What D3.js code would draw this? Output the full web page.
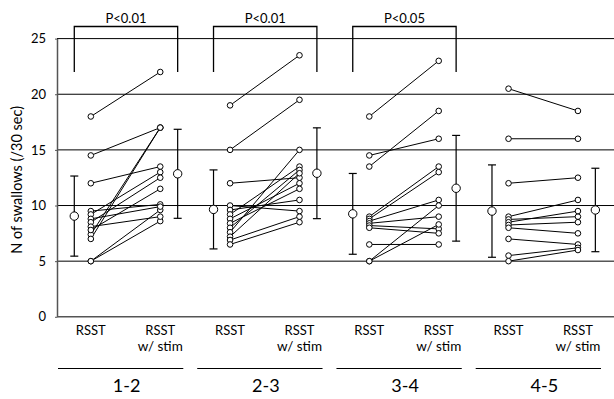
<!DOCTYPE html>
<html>
<head>
<meta charset="utf-8">
<script src="https://cdn.jsdelivr.net/npm/d3@7"></script>
<style>
  body { margin: 0; background: #fff; }
  svg { display: block; font-family: Lato, "DejaVu Sans", sans-serif; }
</style>
</head>
<body>
<svg id="chart" width="614" height="399"></svg>
<script>
// groups and labels
const groups = ["1-2", "2-3", "3-4", "4-5"];
const pLabels = ["P<0.01", "P<0.01", "P<0.05", null];
const yTicks = [0, 5, 10, 15, 20, 25];

// paired values per subject (RSST -> RSST w/ stim)
const rsst12 = [18, 14.5, 12, 7.4, 7.0, 5, 5, 9.5, 9.2, 8.8, 8.5, 8.1, 7.8];
const stim12 = [22, 17, 13.5, 17, 17, 9.6, 8.6, 10.1, 13, 9.9, 12.5, 9.0, 11.5];
const rsst23 = [19, 15, 12, 10, 9.6, 9.2, 8.8, 8.4, 8, 7.6, 7.2, 6.9, 6.5];
const stim23 = [23.5, 19.5, 12.5, 9.5, 10.5, 13.5, 12, 11.5, 13.2, 15, 12.9, 9.0, 8.5];
const rsst34 = [18, 14.5, 13.5, 9, 8.8, 8.6, 8.4, 8.2, 8.0, 6.5, 5, 5];
const stim34 = [23, 16, 18.5, 13.5, 13, 10.5, 9, 7.9, 7.5, 6.5, 10, 8.3];
const rsst45 = [20.5, 16, 12, 9, 8.75, 8.5, 8.25, 8, 7, 5.5, 5];
const stim45 = [18.5, 16, 12.5, 10.5, 9.0, 9.5, 8.5, 7.5, 6.5, 6.2, 6.0];

// mean and SD per group
const meanRsst = [9.05, 9.65, 9.25, 9.5];
const sdRsst = [3.6, 3.55, 3.63, 4.15];
const meanStim = [12.85, 12.9, 11.55, 9.6];
const sdStim = [4.0, 4.08, 4.75, 3.75];

const rsstSets = [rsst12, rsst23, rsst34, rsst45];
const stimSets = [stim12, stim23, stim34, stim45];

const svg = d3.select("#chart");
const axisX = 57;

const x = d3.scaleBand()
    .domain(groups)
    .range([58, 601])
    .paddingInner(0.1)
    .paddingOuter(0);

const y = d3.scaleLinear()
    .domain([0, 25])
    .range([316.8, 38.6]);

// positions inside one group band (fraction of bandwidth)
const inner = d3.scaleOrdinal()
    .domain(["meanL", "rsst", "stim", "meanR"])
    .range([0.13, 0.262, 0.816, 0.955]);
const px = (g, k) => x(g) + inner(k) * x.bandwidth();

// grid lines
svg.append("g")
    .selectAll("line")
    .data(yTicks.filter(d => d > 0))
    .join("line")
    .attr("x1", axisX).attr("x2", 614)
    .attr("y1", d => y(d)).attr("y2", d => y(d))
    .attr("stroke", "#000")
    .attr("stroke-width", 1);

// y axis
const yAxis = svg.append("g")
    .attr("transform", `translate(${axisX},0)`)
    .call(d3.axisLeft(y).tickValues(yTicks).tickSizeInner(2).tickSizeOuter(0).tickPadding(9));
yAxis.select(".domain").attr("stroke", "#555").attr("stroke-width", 1.5);
yAxis.selectAll(".tick line").attr("stroke", "#555");
yAxis.selectAll("text").attr("font-size", 13).attr("font-family", "Lato");

// baseline
svg.append("line")
    .attr("x1", axisX).attr("x2", 614)
    .attr("y1", y(0)).attr("y2", y(0))
    .attr("stroke", "#555").attr("stroke-width", 1.5);

svg.append("text")
    .attr("transform", `translate(22,${y(12.3)}) rotate(-90)`)
    .attr("text-anchor", "middle")
    .attr("font-size", 14.5)
    .text("N of swallows (/30 sec)");

groups.forEach((g, gi) => {
    const grp = svg.append("g");
    const pairs = d3.zip(rsstSets[gi], stimSets[gi]);

    grp.selectAll("line.pair")
        .data(pairs)
        .join("line")
        .attr("class", "pair")
        .attr("x1", px(g, "rsst")).attr("x2", px(g, "stim"))
        .attr("y1", d => y(d[0])).attr("y2", d => y(d[1]))
        .attr("stroke", "#000").attr("stroke-width", 1);

    grp.selectAll("circle.r")
        .data(rsstSets[gi])
        .join("circle")
        .attr("class", "r")
        .attr("cx", px(g, "rsst")).attr("cy", d => y(d)).attr("r", 2.8)
        .attr("fill", "#fff").attr("stroke", "#000").attr("stroke-width", 1);

    grp.selectAll("circle.s")
        .data(stimSets[gi])
        .join("circle")
        .attr("class", "s")
        .attr("cx", px(g, "stim")).attr("cy", d => y(d)).attr("r", 2.8)
        .attr("fill", "#fff").attr("stroke", "#000").attr("stroke-width", 1);

    // mean +- SD
    [["meanL", meanRsst[gi], sdRsst[gi]], ["meanR", meanStim[gi], sdStim[gi]]].forEach(([k, m, s]) => {
        const cx = px(g, k);
        grp.append("line")
            .attr("x1", cx).attr("x2", cx)
            .attr("y1", y(m - s)).attr("y2", y(m + s))
            .attr("stroke", "#000").attr("stroke-width", 1.2);
        [m - s, m + s].forEach(v => {
            grp.append("line")
                .attr("x1", cx - 4).attr("x2", cx + 4)
                .attr("y1", y(v)).attr("y2", y(v))
                .attr("stroke", "#000").attr("stroke-width", 1.2);
        });
        grp.append("circle")
            .attr("cx", cx).attr("cy", y(m)).attr("r", 4.2)
            .attr("fill", "#fff").attr("stroke", "#000").attr("stroke-width", 1);
    });

    // significance bracket
    if (pLabels[gi]) {
        const xl = px(g, "meanL"), xr = px(g, "meanR");
        grp.append("path")
            .attr("d", `M${xl},72V26.5H${xr}V72`)
            .attr("fill", "none").attr("stroke", "#000").attr("stroke-width", 1.3);
        grp.append("text")
            .attr("x", (xl + xr) / 2).attr("y", 22.5)
            .attr("text-anchor", "middle")
            .attr("font-size", 13)
            .text(pLabels[gi]);
    }

    // condition labels
    grp.append("text")
        .attr("x", px(g, "rsst")).attr("y", 335)
        .attr("text-anchor", "middle").attr("font-size", 13)
        .text("RSST");
    grp.append("text")
        .attr("x", px(g, "stim")).attr("y", 335)
        .attr("text-anchor", "middle").attr("font-size", 13)
        .text("RSST");
    grp.append("text")
        .attr("x", px(g, "stim")).attr("y", 351)
        .attr("text-anchor", "middle").attr("font-size", 13.5)
        .text("w/ stim");

    // group underline and label
    grp.append("line")
        .attr("x1", x(g)).attr("x2", x(g) + x.bandwidth())
        .attr("y1", 368.5).attr("y2", 368.5)
        .attr("stroke", "#000").attr("stroke-width", 1);
    grp.append("text")
        .attr("x", x(g) + x.bandwidth() / 2 + 6).attr("y", 392)
        .attr("text-anchor", "middle").attr("font-size", 18)
        .text(g);
});
</script>
</body>
</html>
